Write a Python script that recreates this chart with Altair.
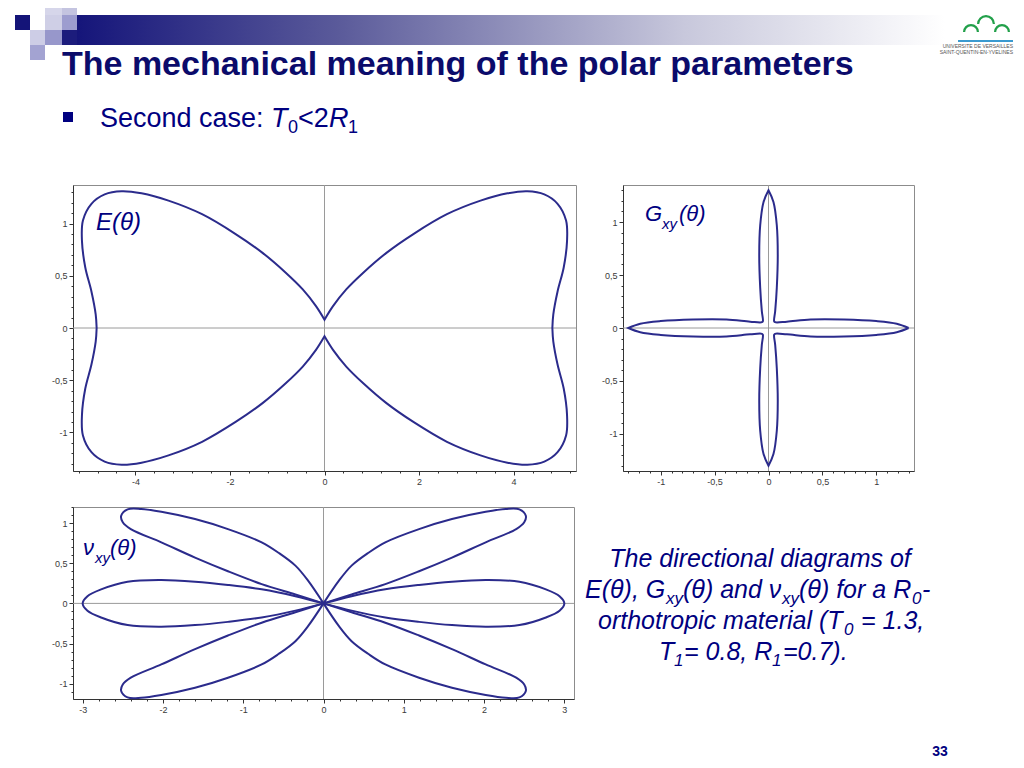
import altair as alt
import pandas as pd

NAVY = "#000080"
TITLE_C = "#0b0b6b"
CURVE = "#2b2b8c"
FONT = "Liberation Sans"

# ---- data: first-quadrant points (x, y), angle 0 -> 90 deg ----
E_x = [4.82, 4.84, 4.93, 5.06, 5.13, 5.11, 4.93, 4.65, 4.29, 3.87, 3.30, 2.59, 1.88, 1.31, 0.82, 0.46, 0.18, 0.0]
E_y = [0.0, 0.13, 0.35, 0.58, 0.83, 1.03, 1.19, 1.28, 1.31, 1.29, 1.22, 1.09, 0.90, 0.72, 0.53, 0.37, 0.21, 0.08]

G_x = [1.30, 1.19, 1.00, 0.70, 0.39, 0.17, 0.06, 0.052, 0.062, 0.077, 0.086, 0.077, 0.046, 0.0]
G_y = [0.0, 0.04, 0.065, 0.08, 0.08, 0.06, 0.055, 0.065, 0.16, 0.38, 0.69, 0.97, 1.19, 1.30]

# nu_xy: horizontal lobe, upper edge (origin -> tip)
NUH_x = [0.0, 0.35, 0.77, 1.19, 1.60, 2.02, 2.44, 2.77, 2.94, 3.00]
NUH_y = [0.0, 0.09, 0.175, 0.23, 0.27, 0.29, 0.27, 0.175, 0.09, 0.0]
# nu_xy: upper-right diagonal lobe, full outline
NUD_x = [0.0, 0.19, 0.35, 0.56, 0.77, 1.19, 1.60, 2.02, 2.27, 2.44, 2.52, 2.50, 2.40, 2.02, 1.60, 1.19, 0.77, 0.35, 0.0]
NUD_y = [0.0, 0.28, 0.47, 0.63, 0.76, 0.925, 1.05, 1.14, 1.175, 1.17, 1.09, 1.01, 0.925, 0.76, 0.57, 0.40, 0.24, 0.11, 0.0]


def loop_df(qx, qy):
    pts = list(zip(qx, qy))
    q2 = [(-x, y) for x, y in reversed(pts)]
    q3 = [(-x, -y) for x, y in pts]
    q4 = [(x, -y) for x, y in reversed(pts)]
    allp = pts + q2 + q3 + q4
    return pd.DataFrame({"x": [p[0] for p in allp], "y": [p[1] for p in allp],
                         "i": list(range(len(allp))), "lobe": ["a"] * len(allp)})


def nu_df():
    rows = []
    upper = list(zip(NUH_x, NUH_y))
    lobe = upper + [(x, -y) for x, y in reversed(upper)][1:]
    for sx, name in [(1, "hr"), (-1, "hl")]:
        for i, (x, y) in enumerate(lobe):
            rows.append((name, i, sx * x, y))
    diag = list(zip(NUD_x, NUD_y))
    for sx, sy, name in [(1, 1, "ur"), (1, -1, "lr"), (-1, 1, "ul"), (-1, -1, "ll")]:
        for i, (x, y) in enumerate(diag):
            rows.append((name, i, sx * x, sy * y))
    return pd.DataFrame(rows, columns=["lobe", "i", "x", "y"])


E_df = loop_df(E_x, E_y)
G_df = loop_df(G_x, G_y)
NU_df = nu_df()

ONE = pd.DataFrame({"z": [0]})
LABEL_EXPR = "replace(toString(datum.value), '.', ',')"


def steps(lo, hi, st):
    n = int(round((hi - lo) / st))
    return [round(lo + k * st, 3) for k in range(n + 1)]


def major_axis(vals, orient):
    return alt.Axis(values=vals, orient=orient, title=None, grid=False, labelExpr=LABEL_EXPR,
                    labelFont=FONT, labelFontSize=9, labelColor="#3a3a3a", tickColor="#333333",
                    domainColor="#333333", tickSize=4, labelPadding=2, labelOverlap=False,
                    labelFlush=False)


def minor_axis(vals, orient):
    return alt.Axis(values=vals, orient=orient, title=None, grid=False, labels=False,
                    domain=False, tickColor="#333333", tickSize=2)


def txt(s, x, y, size, italic=False, bold=False, color=NAVY, align="left"):
    kw = dict(text=s, fontSize=size, font=FONT, color=color, align=align, baseline="alphabetic")
    if italic:
        kw["fontStyle"] = "italic"
    if bold:
        kw["fontWeight"] = "bold"
    return alt.Chart(ONE).mark_text(**kw).encode(x=alt.value(x), y=alt.value(y))


def panel(df, xdom, ydom, xmaj, ymaj, xmin, ymin, w, h, labels):
    xs = alt.Scale(domain=xdom, nice=False, zero=False)
    ys = alt.Scale(domain=ydom, nice=False, zero=False)
    vline = alt.Chart(ONE).mark_rule(color="#9a9a9a", strokeWidth=1).encode(
        x=alt.X("z:Q", scale=xs, axis=None))
    hline = alt.Chart(ONE).mark_rule(color="#9a9a9a", strokeWidth=1).encode(
        y=alt.Y("z:Q", scale=ys, axis=None))
    curve = alt.Chart(df).mark_line(color=CURVE, strokeWidth=2, interpolate="catmull-rom").encode(
        x=alt.X("x:Q", scale=xs, axis=major_axis(xmaj, "bottom")),
        y=alt.Y("y:Q", scale=ys, axis=major_axis(ymaj, "left")),
        order="i:Q", detail="lobe:N")
    minor = alt.Chart(df).mark_point(opacity=0).encode(
        x=alt.X("x:Q", scale=xs, axis=minor_axis(xmin, "bottom")),
        y=alt.Y("y:Q", scale=ys, axis=minor_axis(ymin, "left")))
    return alt.layer(vline, hline, curve, minor, *labels).resolve_axis(
        x="independent", y="independent").properties(
        width=w, height=h, view=alt.ViewBackground(stroke="#8c8c8c", fill="white"))


E_chart = panel(E_df, [-5.32, 5.32], [-1.37, 1.37], [-4, -2, 0, 2, 4], [-1, -0.5, 0, 0.5, 1],
                steps(-5.2, 5.2, 0.4), steps(-1.3, 1.3, 0.1), 503, 286,
                [txt("E(θ)", 23, 45, 24, italic=True)])

G_chart = panel(G_df, [-1.35, 1.35], [-1.35, 1.35], [-1, -0.5, 0, 0.5, 1], [-1, -0.5, 0, 0.5, 1],
                steps(-1.3, 1.3, 0.1), steps(-1.3, 1.3, 0.1), 291, 286,
                [txt("G", 22, 36, 22, italic=True), txt("xy", 39, 44, 15, italic=True),
                 txt("(θ)", 56, 36, 22, italic=True)])

NU_chart = panel(NU_df, [-3.12, 3.12], [-1.19, 1.2], [-3, -2, -1, 0, 1, 2, 3], [-1, -0.5, 0, 0.5, 1],
                 steps(-3.0, 3.0, 0.2), steps(-1.1, 1.2, 0.1), 501, 192,
                 [txt("ν", 10, 48, 22, italic=True), txt("xy", 22, 56, 15, italic=True),
                  txt("(θ)", 37, 48, 22, italic=True)])

NOSTROKE = alt.ViewBackground(stroke=None)


def spacer(w, h):
    return alt.Chart(ONE).mark_text(text="").encode(x=alt.value(0), y=alt.value(0)).properties(
        width=w, height=h, view=NOSTROKE)


# ---- header (origin at page (8, 8)) ----
def rect(x1, y1, x2, y2, color):
    return alt.Chart(ONE).mark_rect(color=color).encode(
        x=alt.value(x1), x2=alt.value(x2), y=alt.value(y1), y2=alt.value(y2))


def bump(cx, cy, r):
    return alt.Chart(ONE).mark_arc(theta=4.71, theta2=7.85, radius=r, radius2=r - 2.2,
                                   color="#22a04a").encode(x=alt.value(cx), y=alt.value(cy))


grad = alt.LinearGradient(gradient="linear", x1=0, x2=1, y1=0, y2=0,
                          stops=[alt.GradientStop(color="#15157a", offset=0),
                                 alt.GradientStop(color="#5a5a9a", offset=0.3),
                                 alt.GradientStop(color="#c8c8dc", offset=0.7),
                                 alt.GradientStop(color="#ffffff", offset=1)])
bar = alt.Chart(ONE).mark_rect(color=grad).encode(
    x=alt.value(69), x2=alt.value(937), y=alt.value(7), y2=alt.value(37))

header_layers = [
    rect(37, 0, 54, 7, "#d6d6ea"), rect(54, 0, 69, 7, "#c4c4e0"),
    rect(7, 7, 22, 22, "#141478"), rect(37, 7, 54, 22, "#cfcfe6"), rect(54, 7, 69, 22, "#9d9dcf"),
    rect(22, 22, 37, 37, "#cdcde6"), rect(37, 22, 54, 37, "#9797cb"), rect(54, 22, 69, 37, "#1c1c7c"),
    rect(22, 37, 37, 52, "#a3a3d2"),
    bar,
    txt("The mechanical meaning of the polar parameters", 54, 67, 34, bold=True, color=TITLE_C),
    rect(55, 104, 65, 114, NAVY),
    txt("Second case: ", 92, 119, 27),
    txt("T", 263, 119, 27, italic=True),
    txt("0", 280, 125, 18),
    txt("<2", 290, 119, 27),
    txt("R", 321, 119, 27, italic=True),
    txt("1", 340, 125, 18),
    bump(963, 24, 8), bump(978, 16, 9), bump(994, 24, 8),
    alt.Chart(ONE).mark_rule(color="#3a9ad0", strokeWidth=2).encode(
        x=alt.value(950), x2=alt.value(1005), y=alt.value(33)),
    txt("UNIVERSITE DE VERSAILLES", 1005, 40, 5, color="#555555", align="right"),
    txt("SAINT-QUENTIN-EN-YVELINES", 1005, 46, 5, color="#555555", align="right"),
]
header = alt.layer(*header_layers).properties(width=1008, height=171, view=NOSTROKE)

# ---- caption (origin at page (621, 507)) ----
ox, oy = 621, 507
cap = [
    txt("The directional diagrams of", 760 - ox, 567 - oy, 25, italic=True, align="center"),
    txt("E(θ), G", 585 - ox, 598 - oy, 25, italic=True),
    txt("xy", 666 - ox, 604 - oy, 17, italic=True),
    txt("(θ) and ν", 683 - ox, 598 - oy, 25, italic=True),
    txt("xy", 782 - ox, 604 - oy, 17, italic=True),
    txt("(θ) for a R", 799 - ox, 598 - oy, 25, italic=True),
    txt("0", 912 - ox, 604 - oy, 17, italic=True),
    txt("-", 922 - ox, 598 - oy, 25, italic=True),
    txt("orthotropic material (T", 598 - ox, 629 - oy, 25, italic=True),
    txt("0", 844 - ox, 635 - oy, 17, italic=True),
    txt("= 1.3,", 861 - ox, 629 - oy, 25, italic=True),
    txt("T", 659 - ox, 660 - oy, 25, italic=True),
    txt("1", 674 - ox, 666 - oy, 17, italic=True),
    txt("= 0.8, R", 684 - ox, 660 - oy, 25, italic=True),
    txt("1", 772 - ox, 666 - oy, 17, italic=True),
    txt("=0.7).", 783 - ox, 660 - oy, 25, italic=True),
    txt("33", 940 - ox, 756 - oy, 14, bold=True, align="center"),
]
caption = alt.layer(*cap).properties(width=330, height=190, view=NOSTROKE)

# left spacer of row 1 is tall enough to reach the top of row 2
row1 = alt.hconcat(spacer(18, 316), E_chart, G_chart, spacing=47, bounds="flush")
row2 = alt.hconcat(spacer(18, 190), NU_chart, caption, spacing=47, bounds="flush")

chart = alt.vconcat(header, row1, row2, spacing=0).properties(
    padding=0).configure_view(stroke=None)

chart.save("out.html", embed_options={"renderer": "svg", "actions": False})
